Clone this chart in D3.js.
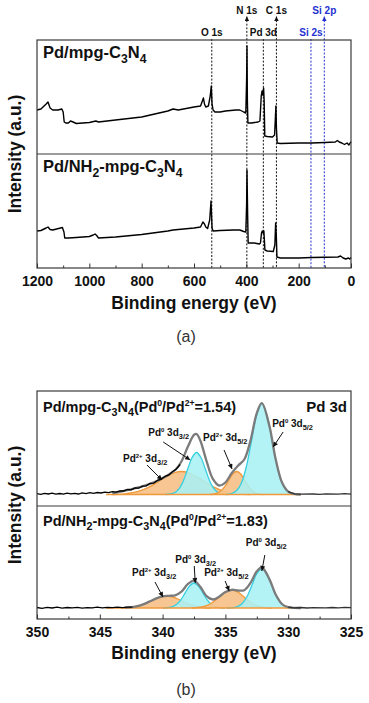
<!DOCTYPE html>
<html>
<head>
<meta charset="utf-8">
<script src="https://cdn.jsdelivr.net/npm/d3@7"></script>
<style>
body{margin:0;background:#fff;}
svg{display:block;font-family:"Liberation Sans",Arial,sans-serif;}
</style>
</head>
<body>
<svg id="xps" width="369" height="703"></svg>
<script>
// survey spectra, [binding energy (eV), intensity (a.u.)]
const surveyMpg = [
  [1200,44],[1185,45],[1165,50],[1158,52],[1150,46],[1140,44],[1120,44],[1105,45],[1100,42],[1096,32],
  [1090,31],[1080,31],[1072,33],[1062,32],[1050,30.5],[1000,31.5],[975,33],[965,32],[900,34],[800,37],
  [700,43],[680,45],[660,44],[600,47],[575,48],[568,53],[564,56],[560,50],[555,47],[545,48],[538,58],
  [534,68],[531,50],[527,44],[520,42],[500,42],[480,43],[440,44],[425,44],[410,42],[402,41],[399,74],
  [397.5,108],[396,54],[394,31],[380,31],[355,32],[348,33],[343,58],[340,63],[337,59],[334,66],[332,54],
  [329.5,18],[320,17.5],[300,17],[292,19],[289,36],[287,48],[285,26],[282,11],[270,10.5],[200,11],
  [150,11],[100,11.5],[60,12],[52,13.5],[45,12],[35,11],[25,9.5],[15,11],[8,9],[0,12.3]
];
const surveyNH2 = [
  [1200,37],[1185,37.5],[1165,40],[1158,41],[1150,38.5],[1140,38],[1125,39],[1110,40],[1103,40.5],[1097,36],
  [1094,30],[1080,30],[1050,30.5],[1000,31.5],[985,33],[978,34],[972,32.5],[965,30],[900,31],[800,33.5],
  [700,37],[680,38],[600,40],[575,41],[566,46],[560,44],[555,41],[548,39.5],[540,48],[535,67],[531,40],
  [527,37],[500,37.5],[450,38],[425,38],[410,36.5],[402,36],[399,63],[397.5,98],[395,53],[393,25],
  [370,25],[350,24],[346,25],[342,35],[339,37],[336,35],[333,37],[331,28],[329,18],[320,17],[297,16.5],
  [291,23],[288,45],[285.5,33],[283,11],[270,10],[200,10],[150,10.5],[100,10.7],[50,11],[40,12],
  [30,10],[20,9],[10,10],[5,9],[0,10.5]
];
const surveyTicks = [1200, 1000, 800, 600, 400, 200, 0];
const surveyMinor = [1100, 900, 700, 500, 300, 100];
const peakNames = ["O 1s", "N 1s", "Pd 3d", "C 1s", "Si 2s", "Si 2p"];
const peakEnergies = [532, 398, 335, 285, 153, 102];

// Pd 3d high resolution, Pd/mpg-C3N4
const rawMpg = [
  [350,0.8],[349.7,0.2],[349.4,1.2],[349.1,0.5],[348.8,1.4],[348.5,0.4],[348.2,1],[347.9,0.3],[347.6,1.3],
  [347.3,0.6],[347,1.1],[346.7,0.5],[346.4,1.6],[346.1,0.9],[345.8,1.8],[345.5,1.2],[345.2,2],[344.9,1.5],
  [344.6,2.4],[344.3,1.9],[344,2.8],[343.7,2.4],[343.4,3.6],[343.1,3.5],[342.8,5],[342.5,4.6],[342.2,6.5],
  [341.9,6.3],[341.6,8.4],[341.3,8.6],[341,11.2],[340.7,11.4],[340.4,14.2],[340.1,15.4],[339.8,18.2],
  [339.5,19.6],[339.2,23],[338.9,25.5],[338.6,30]
];
const rawMpgTail = [[330,2.8],[329.5,0.6],[329,0.3],[328,0.5],[327.5,0.1],[327,0.6],[326,0.3],[325.5,0.8],[325,0.4]];
const envMpg = [
  [344,1.5],[343.5,2.5],[343,3.8],[342.5,5.2],[342,6.8],[341.5,8.6],[341,10.6],[340.5,13.2],[340,16.5],
  [339.5,20],[339,24.5],[338.5,33],[338,47.5],[337.5,59.6],[337.3,60.5],[337,54],[336.5,33.4],[336,15.6],
  [335.5,9],[335,12],[334.5,21.4],[334,28.8],[333.5,35],[333,54],[332.5,81.4],[332.1,91.3],[331.5,68.7],
  [331,35.4],[330.5,12.3],[330,2.9],[329.5,0.5],[329,0]
];
const mpgPd2_32 = [[344,0],[343,0.7],[342,2.8],[341,7.8],[340,15.6],[339,22],[338.5,23],[338,22],[337,15.6],[336,7.8],[335,2.8],[334,0.7],[333,0]];
const mpgPd0_32 = [[339.8,0],[339.4,0.5],[339.05,1.8],[338.7,5.7],[338.35,13.6],[338,25.5],[337.65,37],[337.3,42],[336.95,37],[336.6,25.5],[336.25,13.6],[335.9,5.7],[335.55,1.8],[335.2,0.5],[334.8,0]];
const mpgPd2_52 = [[336.2,0],[335.9,0.5],[335.6,1.6],[335.3,4.2],[335,8.8],[334.7,15],[334.4,20.7],[334.1,23],[333.8,20.7],[333.5,15],[333.2,8.8],[332.9,4.2],[332.6,1.6],[332.3,0.5],[332,0]];
const mpgPd0_52 = [[334.9,0],[334.5,1],[334.1,4],[333.7,12.3],[333.3,29.6],[332.9,55],[332.5,80],[332.1,91],[331.7,80],[331.3,55],[330.9,29.6],[330.5,12.3],[330.1,4],[329.7,1],[329.3,0]];

// Pd 3d high resolution, Pd/NH2-mpg-C3N4
const rawNH2 = [
  [350,0.5],[349.6,-0.3],[349.2,0.6],[348.8,0],[348.4,0.8],[348,-0.2],[347.6,0.5],[347.2,0.1],[346.8,0.7],
  [346.4,-0.1],[346,0.4],[345.6,0.2],[345.2,0.8],[344.8,0.1],[344.4,0.6],[344,0.3],[343.6,0.9],[343.2,0.4],
  [342.8,0.9],[342.4,0.9]
];
const rawNH2Tail = [[330,0.8],[329.5,0.2],[329,0.5],[328.5,0],[328,0.4],[327,0.1],[326.5,0.5],[326,0.2],[325.5,0.6],[325,0.3]];
const envNH2 = [
  [343,0.3],[342.5,0.9],[342,1.9],[341.5,3.9],[341,6.7],[340.5,9.6],[340,11.6],[339.5,12.2],[339,12.6],
  [338.5,16.3],[338,23.8],[337.5,27.4],[337,21.2],[336.5,11.8],[336,8.5],[335.5,11.3],[335,15.9],[334.5,18.2],
  [334,17.5],[333.5,17.8],[333,25.1],[332.5,36.7],[332.1,40.5],[331.5,28.9],[331,13.5],[330.5,4],[330,0.8],
  [329.5,0.1],[329,0]
];
const nh2Pd2_32 = [[343.2,0],[342.7,0.5],[342.2,1.4],[341.7,3],[341.2,5.5],[340.7,8.5],[340.2,11],[339.7,12],[339.2,11],[338.7,8.5],[338.2,5.5],[337.7,3],[337.2,1.4],[336.7,0.5],[336.2,0]];
const nh2Pd0_32 = [[339.95,0],[339.6,0.3],[339.25,1.1],[338.9,3.4],[338.55,8.1],[338.2,15.2],[337.85,22],[337.5,25],[337.15,22],[336.8,15.2],[336.45,8.1],[336.1,3.4],[335.75,1.1],[335.4,0.3],[335.05,0]];
const nh2Pd2_52 = [[337.7,0],[337.3,0.4],[336.9,1],[336.5,2.4],[336.1,5],[335.7,8.8],[335.3,13.1],[334.9,16.6],[334.5,18],[334.1,16.6],[333.7,13.1],[333.3,8.8],[332.9,5],[332.5,2.4],[332.1,1],[331.7,0.4],[331.3,0]];
const nh2Pd0_52 = [[334.9,0],[334.5,0.2],[334.1,1.1],[333.7,4],[333.3,11],[332.9,22.4],[332.5,34.3],[332.1,39.5],[331.7,34.3],[331.3,22.4],[330.9,11],[330.5,4],[330.1,1.1],[329.7,0.2],[329.3,0]];

const pdTicks = [350, 345, 340, 335, 330, 325];
const pdMinor = [347.5, 342.5, 337.5, 332.5, 327.5];
const sampleNames = ["Pd/mpg-C_{3}N_{4}", "Pd/NH_{2}-mpg-C_{3}N_{4}"];
const pdRatios = ["1.54", "1.83"];
const componentNames = ["Pd^{2+} 3d_{3/2}", "Pd^{0} 3d_{3/2}", "Pd^{2+} 3d_{5/2}", "Pd^{0} 3d_{5/2}"];

const svg = d3.select("#xps");
const L = 37, R = 351;
const ink = "#111";
const blue = "#2430d0";

function rich(sel, str, size) {
  const re = /([_^])\{([^}]*)\}|([^_^]+)/g;
  let m, cur = 0;
  while ((m = re.exec(str))) {
    let t = 0, fs = size, txt = m[3];
    if (!m[3]) {
      txt = m[2];
      if (m[1] === "_") { t = size * 0.28; fs = size * 0.74; }
      else { t = -size * 0.4; fs = size * 0.6; }
    }
    sel.append("tspan").attr("dy", (t - cur).toFixed(2)).attr("font-size", fs).text(txt);
    cur = t;
  }
}

const defs = svg.append("defs");
[["arrK", ink], ["arrB", blue]].forEach(function(a) {
  defs.append("marker").attr("id", a[0])
    .attr("viewBox", "0 0 10 10").attr("refX", 10).attr("refY", 5)
    .attr("markerWidth", 5).attr("markerHeight", 4.5)
    .attr("orient", "auto-start-reverse").attr("markerUnits", "userSpaceOnUse")
    .append("path").attr("d", "M0,0L10,5L0,10z").attr("fill", a[1]);
});
defs.append("marker").attr("id", "arrS")
  .attr("viewBox", "0 0 10 10").attr("refX", 10).attr("refY", 5)
  .attr("markerWidth", 6).attr("markerHeight", 5)
  .attr("orient", "auto").attr("markerUnits", "userSpaceOnUse")
  .append("path").attr("d", "M0,0L10,5L0,10z").attr("fill", ink);

// ---------- (a) survey ----------
const xA = d3.scaleLinear().domain([1200, 0]).range([L, R]);
const yA1 = d3.scaleLinear().domain([0, 114]).range([154, 40]);
const yA2 = d3.scaleLinear().domain([0, 114]).range([268, 154]);

const upper = new Set(["N 1s", "C 1s", "Si 2p"]);
peakNames.forEach(function(name, i) {
  const xx = xA(peakEnergies[i]);
  const up = upper.has(name);
  const col = name.indexOf("Si") === 0 ? blue : ink;
  svg.append("line")
    .attr("x1", xx).attr("x2", xx)
    .attr("y1", up ? 16.5 : 39).attr("y2", 268)
    .attr("stroke", col).attr("stroke-width", 1)
    .attr("stroke-dasharray", "2,1.6")
    .attr("marker-start", up ? (col === blue ? "url(#arrB)" : "url(#arrK)") : null);
  svg.append("text")
    .attr("x", xx).attr("y", up ? 14 : 36)
    .attr("text-anchor", "middle")
    .attr("font-size", 10).attr("font-weight", "bold")
    .attr("fill", col).text(name);
});

const surveyLine1 = d3.line().x(function(d) { return xA(d[0]); }).y(function(d) { return yA1(d[1]); });
const surveyLine2 = d3.line().x(function(d) { return xA(d[0]); }).y(function(d) { return yA2(d[1]); });
svg.append("path").datum(surveyMpg).attr("d", surveyLine1)
  .attr("fill", "none").attr("stroke", "#000").attr("stroke-width", 1.4).attr("stroke-linejoin", "round");
svg.append("path").datum(surveyNH2).attr("d", surveyLine2)
  .attr("fill", "none").attr("stroke", "#000").attr("stroke-width", 1.4).attr("stroke-linejoin", "round");

[58, 172].forEach(function(yy, i) {
  const t = svg.append("text").attr("x", 43).attr("y", yy)
    .attr("font-weight", "bold").attr("fill", ink);
  rich(t, sampleNames[i], 16.5);
});

function frame(top, mid, bottom) {
  svg.append("rect").attr("x", L).attr("y", top).attr("width", R - L).attr("height", bottom - top)
    .attr("fill", "none").attr("stroke", "#3a3a3a").attr("stroke-width", 1.2);
  svg.append("line").attr("x1", L).attr("x2", R).attr("y1", mid).attr("y2", mid)
    .attr("stroke", "#3a3a3a").attr("stroke-width", 1.2);
}
frame(40, 154, 268);

function bottomAxis(x, yy, major, minor, fmt) {
  const gMin = svg.append("g").attr("transform", "translate(0," + yy + ")")
    .call(d3.axisBottom(x).tickValues(minor).tickSize(-2.5).tickFormat(""));
  gMin.select(".domain").remove();
  gMin.selectAll("line").attr("stroke", "#333");
  const g = svg.append("g").attr("transform", "translate(0," + yy + ")")
    .call(d3.axisBottom(x).tickValues(major).tickSize(-4.5).tickPadding(8).tickFormat(fmt));
  g.select(".domain").remove();
  g.selectAll("line").attr("stroke", "#333");
  g.selectAll("text").attr("font-size", 14).attr("font-weight", "bold")
    .attr("font-family", "Liberation Sans, Arial, sans-serif").attr("fill", ink);
}
bottomAxis(xA, 268, surveyTicks, surveyMinor, d3.format("d"));

function axisTitles(cy, ty, tag, tagY) {
  svg.append("text").attr("x", (L + R) / 2).attr("y", ty).attr("text-anchor", "middle")
    .attr("font-size", 17.5).attr("font-weight", "bold").attr("fill", ink).text("Binding energy (eV)");
  svg.append("text").attr("transform", "translate(20.5," + cy + ") rotate(-90)")
    .attr("text-anchor", "middle").attr("font-size", 17.5).attr("font-weight", "bold")
    .attr("fill", ink).text("Intensity (a.u.)");
  svg.append("text").attr("x", 186).attr("y", tagY).attr("text-anchor", "middle")
    .attr("font-size", 16).attr("fill", "#333").text(tag);
}
axisTitles(154, 309, "(a)", 341.5);

// ---------- (b) Pd 3d ----------
const xB = d3.scaleLinear().domain([350, 325]).range([L, R]);
const yB1 = d3.scaleLinear().domain([-11.5, 103.5]).range([506, 391]);
const yB2 = d3.scaleLinear().domain([-11, 102]).range([619, 506]);

const cyanFill = "#a9f0f4", cyanLine = "#35cfe0";
const orangeFill = "#f7c38c", orangeLine = "#f0993a";

const notesMpg = [
  {tip: [340.05, 14.5], text: [-39, -18], from: [-15, -15]},
  {tip: [337.8, 34.5], text: [-42, -24], from: [-27, -18]},
  {tip: [334.47, 25.5], text: [-29, -28], from: [-8, -19]},
  {tip: [331.2, 47.5], text: [-1, -20], from: [10, -15]}
];
const notesNH2 = [
  {tip: [339.97, 11], text: [-31, -21], from: [-8, -15]},
  {tip: [337.4, 25], text: [-20, -20], from: [-1, -17]},
  {tip: [334.7, 17], text: [-25, -15], from: [-4, -10]},
  {tip: [332.1, 37], text: [-16, -25], from: [3, -16]}
];

function pdPanel(y, comps, raw, tail, env, notes) {
  const g = svg.append("g");
  const area = d3.area().curve(d3.curveCatmullRom)
    .x(function(d) { return xB(d[0]); }).y0(y(0)).y1(function(d) { return y(d[1]); });
  const line = d3.line().curve(d3.curveCatmullRom)
    .x(function(d) { return xB(d[0]); }).y(function(d) { return y(d[1]); });
  const isCyan = [false, true, false, true];
  [0, 1, 2, 3].forEach(function(k) {
    g.append("path").datum(comps[k]).attr("d", area)
      .attr("fill", isCyan[k] ? cyanFill : orangeFill).attr("fill-opacity", isCyan[k] ? 0.88 : 0.95);
    g.append("path").datum(comps[k]).attr("d", line).attr("fill", "none")
      .attr("stroke", isCyan[k] ? cyanLine : orangeLine).attr("stroke-width", 1.3);
  });
  g.append("line").attr("x1", xB(344.5)).attr("x2", xB(329)).attr("y1", y(0)).attr("y2", y(0))
    .attr("stroke", orangeLine).attr("stroke-width", 1.3);
  const rawLine = d3.line().x(function(d) { return xB(d[0]); }).y(function(d) { return y(d[1]); });
  g.append("path").datum(env).attr("d", line).attr("fill", "none")
    .attr("stroke", "#7b7b7b").attr("stroke-width", 2.3);
  g.append("path").datum(raw).attr("d", rawLine).attr("fill", "none")
    .attr("stroke", "#000").attr("stroke-width", 1.3);
  g.append("path").datum(tail).attr("d", rawLine).attr("fill", "none")
    .attr("stroke", "#333").attr("stroke-width", 1.3);

  notes.forEach(function(n, k) {
    const tx = xB(n.tip[0]), ty = y(n.tip[1]);
    g.append("line").attr("x1", tx + n.from[0]).attr("y1", ty + n.from[1])
      .attr("x2", tx).attr("y2", ty)
      .attr("stroke", ink).attr("stroke-width", 1).attr("marker-end", "url(#arrS)");
    const t = g.append("text").attr("x", tx + n.text[0]).attr("y", ty + n.text[1])
      .attr("font-weight", "bold").attr("fill", ink);
    rich(t, componentNames[k], 10);
  });
}

pdPanel(yB1, [mpgPd2_32, mpgPd0_32, mpgPd2_52, mpgPd0_52], rawMpg, rawMpgTail, envMpg, notesMpg);
pdPanel(yB2, [nh2Pd2_32, nh2Pd0_32, nh2Pd2_52, nh2Pd0_52], rawNH2, rawNH2Tail, envNH2, notesNH2);

[412, 526].forEach(function(yy, i) {
  const t = svg.append("text").attr("x", 43).attr("y", yy)
    .attr("font-weight", "bold").attr("fill", ink);
  rich(t, sampleNames[i] + "(Pd^{0}/Pd^{2+}=" + pdRatios[i] + ")", 14.5);
});
svg.append("text").attr("x", 347).attr("y", 412).attr("text-anchor", "end")
  .attr("font-size", 15).attr("font-weight", "bold").attr("fill", ink).text("Pd 3d");

frame(391, 506, 619);
bottomAxis(xB, 619, pdTicks, pdMinor, d3.format("d"));
axisTitles(505, 659, "(b)", 695);
</script>
</body>
</html>
